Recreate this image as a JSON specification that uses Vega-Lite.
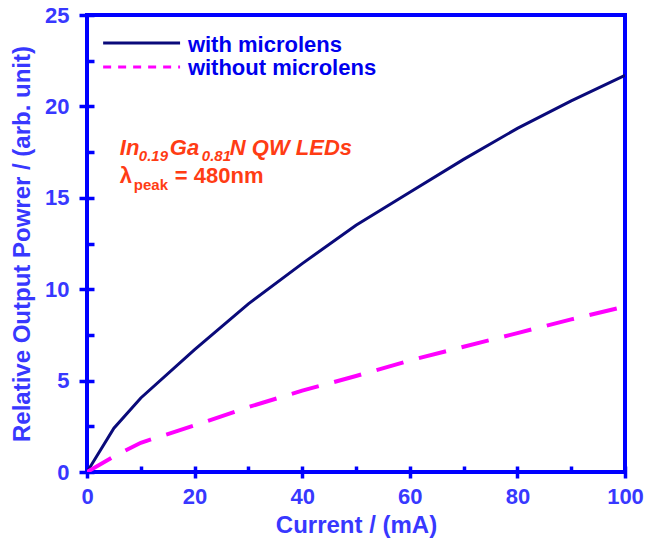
{
  "$schema": "https://vega.github.io/schema/vega-lite/v6.json",
  "width": 538,
  "height": 457,
  "autosize": "none",
  "padding": {"left": 87, "top": 15, "right": 32, "bottom": 68},
  "background": "white",
  "config": {
    "view": {"stroke": "#0000FF", "strokeWidth": 4},
    "font": "Liberation Sans",
    "text": {"font": "Liberation Sans", "fontWeight": "bold", "color": "#FF3C14", "align": "left", "baseline": "alphabetic"},
    "axis": {
      "domain": false,
      "grid": false,
      "labelFlush": false,
      "tickColor": "#0000FF",
      "tickWidth": 3.5,
      "labelFont": "Liberation Sans",
      "labelFontWeight": "bold",
      "labelFontSize": 22,
      "labelColor": "#3838FF",
      "titleFont": "Liberation Sans",
      "titleFontWeight": "bold",
      "titleColor": "#3838FF"
    }
  },
  "data": {
    "values": [
      {"series": "with microlens", "current": 0, "power": 0},
      {"series": "with microlens", "current": 5, "power": 2.4},
      {"series": "with microlens", "current": 10, "power": 4.05},
      {"series": "with microlens", "current": 20, "power": 6.7},
      {"series": "with microlens", "current": 30, "power": 9.2},
      {"series": "with microlens", "current": 40, "power": 11.4},
      {"series": "with microlens", "current": 50, "power": 13.5},
      {"series": "with microlens", "current": 60, "power": 15.3},
      {"series": "with microlens", "current": 70, "power": 17.1},
      {"series": "with microlens", "current": 80, "power": 18.8},
      {"series": "with microlens", "current": 90, "power": 20.3},
      {"series": "with microlens", "current": 100, "power": 21.7},
      {"series": "without microlens", "current": 0, "power": 0},
      {"series": "without microlens", "current": 5, "power": 0.85},
      {"series": "without microlens", "current": 10, "power": 1.6},
      {"series": "without microlens", "current": 20, "power": 2.55},
      {"series": "without microlens", "current": 30, "power": 3.55},
      {"series": "without microlens", "current": 40, "power": 4.45},
      {"series": "without microlens", "current": 50, "power": 5.25},
      {"series": "without microlens", "current": 60, "power": 6.1},
      {"series": "without microlens", "current": 70, "power": 6.85},
      {"series": "without microlens", "current": 80, "power": 7.6},
      {"series": "without microlens", "current": 90, "power": 8.35},
      {"series": "without microlens", "current": 100, "power": 9.05}
    ]
  },
  "resolve": {"axis": {"x": "independent", "y": "independent"}},
  "layer": [
    {
      "transform": [{"filter": "datum.series === 'with microlens'"}],
      "mark": {"type": "line", "strokeWidth": 3, "clip": true},
      "encoding": {
        "x": {
          "field": "current", "type": "quantitative",
          "scale": {"domain": [0, 100], "nice": false},
          "axis": {
            "orient": "bottom",
            "values": [0, 20, 40, 60, 80, 100],
            "tickSize": 6,
            "labelPadding": 8,
            "title": "Current / (mA)",
            "titleFontSize": 24,
            "titlePadding": 6
          }
        },
        "y": {
          "field": "power", "type": "quantitative",
          "scale": {"domain": [0, 25], "nice": false},
          "axis": {
            "orient": "left",
            "values": [0, 5, 10, 15, 20, 25],
            "tickSize": 8,
            "labelPadding": 10,
            "title": "Relative Output Powrer / (arb. unit)",
            "titleFontSize": 24,
            "titlePadding": 10
          }
        },
        "color": {
          "field": "series", "type": "nominal",
          "scale": {"domain": ["with microlens", "without microlens"], "range": ["#0A0A7A", "#FF00FF"]},
          "legend": null
        }
      }
    },
    {
      "transform": [{"filter": "datum.series === 'without microlens'"}],
      "mark": {"type": "line", "strokeWidth": 4, "strokeDash": [28, 16], "clip": true},
      "encoding": {
        "x": {
          "field": "current", "type": "quantitative",
          "axis": {
            "orient": "bottom",
            "values": [0, 10, 20, 30, 40, 50, 60, 70, 80, 90, 100],
            "tickSize": -6,
            "labels": false,
            "title": null
          }
        },
        "y": {
          "field": "power", "type": "quantitative",
          "axis": {
            "orient": "left",
            "values": [0, 2.5, 5, 7.5, 10, 12.5, 15, 17.5, 20, 22.5, 25],
            "tickSize": -7,
            "labels": false,
            "title": null
          }
        },
        "color": {"field": "series", "type": "nominal", "legend": null}
      }
    },
    {
      "data": {"values": [{}]},
      "layer": [
        {"mark": {"type": "rule", "color": "#0A0A7A", "strokeWidth": 3}, "encoding": {"x": {"datum": 3.0, "axis": null}, "x2": {"datum": 17.3}, "y": {"datum": 23.47, "axis": null}}},
        {"mark": {"type": "rule", "color": "#FF00FF", "strokeWidth": 3, "strokeDash": [8, 7]}, "encoding": {"x": {"datum": 3.0, "axis": null}, "x2": {"datum": 17.3}, "y": {"datum": 22.16, "axis": null}}},
        {"mark": {"type": "text", "fontSize": 22, "color": "#0000EE"}, "encoding": {"x": {"datum": 18.75, "axis": null}, "y": {"datum": 23.0, "axis": null}, "text": {"value": "with microlens"}}},
        {"mark": {"type": "text", "fontSize": 22, "color": "#0000EE"}, "encoding": {"x": {"datum": 18.75, "axis": null}, "y": {"datum": 21.72, "axis": null}, "text": {"value": "without microlens"}}},
        {"mark": {"type": "text", "fontStyle": "italic", "fontSize": 22, "dx": 0}, "encoding": {"x": {"datum": 6.1, "axis": null}, "y": {"datum": 17.35, "axis": null}, "text": {"value": "In"}}},
        {"mark": {"type": "text", "fontStyle": "italic", "fontSize": 15, "dx": 19, "dy": 6}, "encoding": {"x": {"datum": 6.1, "axis": null}, "y": {"datum": 17.35, "axis": null}, "text": {"value": "0.19"}}},
        {"mark": {"type": "text", "fontStyle": "italic", "fontSize": 22, "dx": 50}, "encoding": {"x": {"datum": 6.1, "axis": null}, "y": {"datum": 17.35, "axis": null}, "text": {"value": "Ga"}}},
        {"mark": {"type": "text", "fontStyle": "italic", "fontSize": 15, "dx": 82, "dy": 6}, "encoding": {"x": {"datum": 6.1, "axis": null}, "y": {"datum": 17.35, "axis": null}, "text": {"value": "0.81"}}},
        {"mark": {"type": "text", "fontStyle": "italic", "fontSize": 22, "dx": 110}, "encoding": {"x": {"datum": 6.1, "axis": null}, "y": {"datum": 17.35, "axis": null}, "text": {"value": "N QW LEDs"}}},
        {"mark": {"type": "text", "fontSize": 22, "dx": 0}, "encoding": {"x": {"datum": 6.1, "axis": null}, "y": {"datum": 15.81, "axis": null}, "text": {"value": "λ"}}},
        {"mark": {"type": "text", "fontSize": 15, "dx": 14, "dy": 7}, "encoding": {"x": {"datum": 6.1, "axis": null}, "y": {"datum": 15.81, "axis": null}, "text": {"value": "peak"}}},
        {"mark": {"type": "text", "fontSize": 22, "dx": 55}, "encoding": {"x": {"datum": 6.1, "axis": null}, "y": {"datum": 15.81, "axis": null}, "text": {"value": "= 480nm"}}}
      ]
    }
  ]
}
